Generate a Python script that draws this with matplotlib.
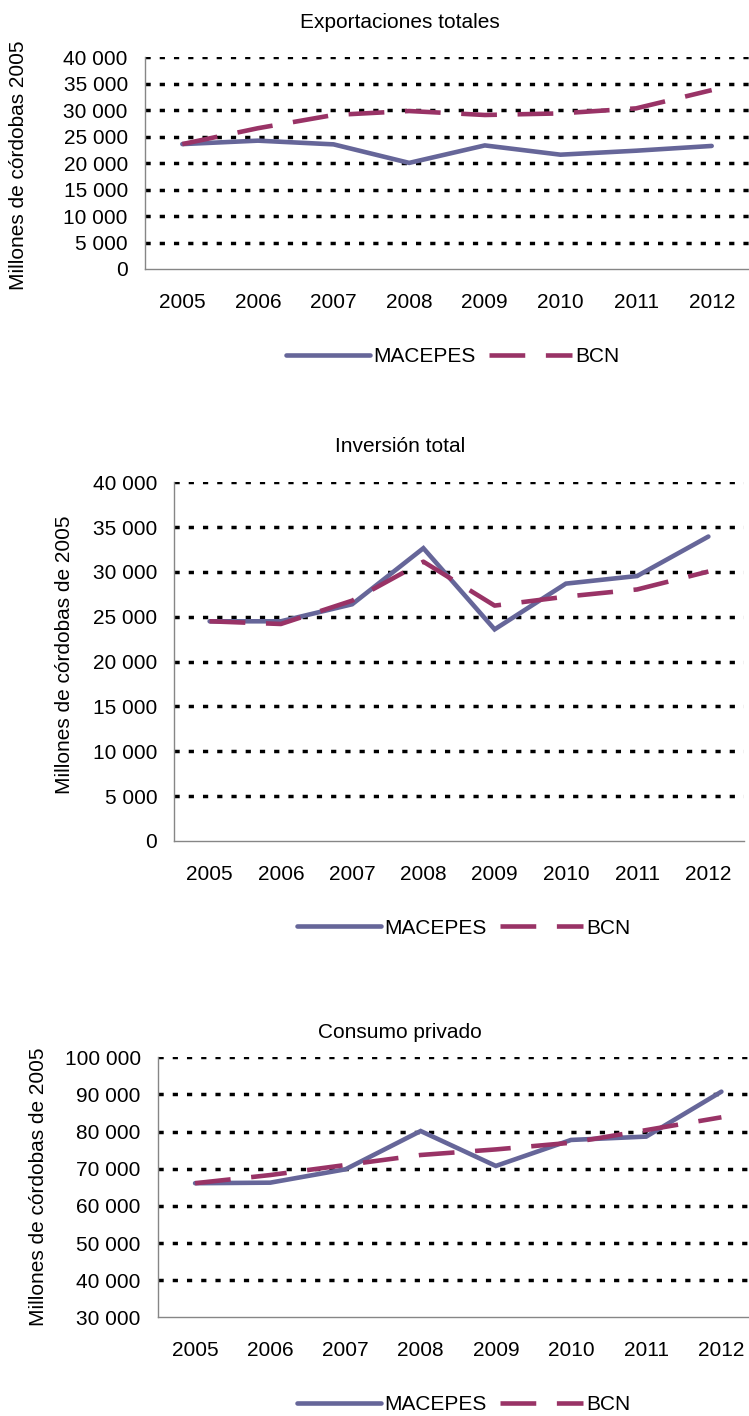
import matplotlib
matplotlib.use("Agg")
import matplotlib.pyplot as plt
from matplotlib.ticker import FuncFormatter

plt.rcParams['font.family'] = ['Liberation Sans', 'DejaVu Sans']
plt.rcParams['font.size'] = 15

years = ["2005", "2006", "2007", "2008", "2009", "2010", "2011", "2012"]

# Exportaciones totales
exp_macepes = [23600, 24250, 23550, 20050, 23350, 21600, 22350, 23250]
exp_bcn = [23600, 26600, 29100, 29850, 29100, 29400, 30350, 33800]

# Inversion total
inv_macepes = [24500, 24500, 26400, 32650, 23600, 28700, 29550, 33950]
inv_bcn = [24500, 24200, 26800, 31150, 26250, 27250, 28050, 30050]

# Consumo privado
con_macepes = [66100, 66250, 69850, 80150, 70750, 77750, 78650, 90750]
con_bcn = [66100, 68300, 71000, 73700, 75200, 77000, 80400, 83850]

C_MAC = "#666699"
C_BCN = "#993366"
W, H = 749.0, 1416.0


def thousands(v, pos):
    return "{:,}".format(int(v)).replace(",", " ")


def make_panel(fig, rect, title, title_y, ylabel, ylabel_x, ylabel_y,
               mac, bcn, ylim, ystep, leg_xy):
    ax = fig.add_axes(rect)
    x = range(len(years))

    ax.set_xlim(-0.5, len(years) - 0.5)
    ax.set_ylim(*ylim)
    ticks = list(range(ylim[0], ylim[1] + 1, ystep))
    ax.set_yticks(ticks)
    ax.yaxis.set_major_formatter(FuncFormatter(thousands))
    ax.set_xticks(list(x))
    ax.set_xticklabels(years)

    """ dotted grid, no line on the bottom value """
    for t in ticks[1:]:
        ax.axhline(t, color="black", lw=2.5, dashes=(1.5, 2.6),
                   dash_capstyle="butt", zorder=1)

    ax.plot(x, mac, color=C_MAC, lw=3.3, solid_capstyle="round",
            solid_joinstyle="miter", label="MACEPES", zorder=3)
    ax.plot(x, bcn, color=C_BCN, lw=3.3, dashes=(7.8, 4.5),
            dash_capstyle="butt", label="BCN", zorder=3)

    for s in ["top", "right"]:
        ax.spines[s].set_visible(False)
    for s in ["left", "bottom"]:
        ax.spines[s].set_color("#868686")
        ax.spines[s].set_linewidth(1.0)
    ax.tick_params(axis="both", length=0)
    ax.tick_params(axis="y", pad=12)
    ax.tick_params(axis="x", pad=17)

    fig.text(400 / W, 1 - title_y / H, title, ha="center", va="center")
    fig.text(ylabel_x / W, 1 - ylabel_y / H, ylabel, rotation=90,
             ha="center", va="center")

    handles, labels = ax.get_legend_handles_labels()
    fig.legend(handles, labels, loc="center", ncol=2, frameon=False,
               bbox_to_anchor=(leg_xy[0] / W, 1 - leg_xy[1] / H),
               handlelength=4.0, handletextpad=0.15, columnspacing=0.65)
    return ax


fig = plt.figure(figsize=(7.49, 14.16), dpi=100)

make_panel(fig, [144.5 / W, 1 - 269 / H, 605 / W, 211.7 / H],
           "Exportaciones totales", 22, "Millones de córdobas 2005", 19, 165,
           exp_macepes, exp_bcn, (0, 40000), 5000, (453, 357))

make_panel(fig, [174 / W, 1 - 841 / H, 570 / W, 358.7 / H],
           "Inversión total", 447, "Millones de córdobas de 2005", 65, 655,
           inv_macepes, inv_bcn, (0, 40000), 5000, (464, 928))

make_panel(fig, [157.5 / W, 1 - 1317.3 / H, 601.5 / W, 260 / H],
           "Consumo privado", 1033, "Millones de córdobas de 2005", 38.5, 1187,
           con_macepes, con_bcn, (30000, 100000), 10000, (464, 1405))

fig.savefig("out.png", dpi=100)
